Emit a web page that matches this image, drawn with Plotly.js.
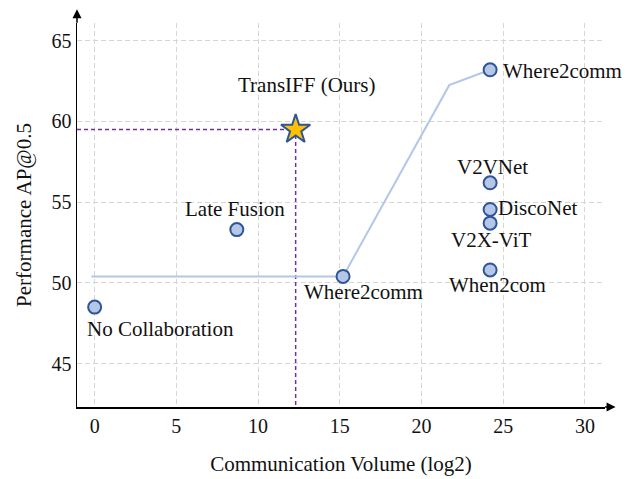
<!DOCTYPE html>
<html>
<head>
<meta charset="utf-8">
<script src="https://cdn.plot.ly/plotly-3.0.1.min.js"></script>
<style>html,body{margin:0;padding:0;background:#fff}#chart{width:626px;height:479px}</style>
</head>
<body>
<div id="chart"></div>
<script>
// ---- data ----
const methods = ['No Collaboration', 'Late Fusion', 'Where2comm', 'Where2comm', 'V2VNet', 'DiscoNet', 'V2X-ViT', 'When2com'];
const commVolume = [0, 8.7, 15.2, 24.2, 24.2, 24.2, 24.2, 24.2];
const perfAP = [48.5, 53.3, 50.4, 63.2, 56.2, 54.55, 53.7, 50.8];

const where2commCurveX = [-0.2, 15.2, 21.7, 24.2];
const where2commCurveY = [50.4, 50.4, 62.25, 63.2];

const oursName = 'TransIFF (Ours)';
const oursVolume = [12.3];
const oursAP = [59.5];

const xTicks = [0, 5, 10, 15, 20, 25, 30];
const yTicks = [45, 50, 55, 60, 65];
const xRange = [-1.08, 31.23];
const yRange = [42.31, 66.1];

// ---- style / placement ----
const FONT = '"Liberation Serif", "Times New Roman", Times, serif';
const LABEL_SIZE = 21;
const labelPlacement = [
  {xanchor: 'center', xshift: 66, yshift: -22},   // No Collaboration
  {xanchor: 'center', xshift: -2, yshift: 21},    // Late Fusion
  {xanchor: 'center', xshift: 20, yshift: -16},   // Where2comm (low)
  {xanchor: 'left', xshift: 11, yshift: -1},      // Where2comm (high)
  {xanchor: 'center', xshift: 2, yshift: 16},     // V2VNet
  {xanchor: 'left', xshift: 6, yshift: 1},        // DiscoNet
  {xanchor: 'center', xshift: 1, yshift: -17},    // V2X-ViT
  {xanchor: 'center', xshift: 7, yshift: -15}     // When2com
];
const oursPlacement = {xanchor: 'center', xshift: 11, yshift: 45};

const traces = [
  {
    x: [xRange[0], oursVolume[0], oursVolume[0]],
    y: [oursAP[0], oursAP[0], yRange[0]],
    mode: 'lines', type: 'scatter', hoverinfo: 'skip', showlegend: false,
    line: {color: '#7030a0', width: 1.5, dash: '4px,3px'}
  },
  {
    x: where2commCurveX, y: where2commCurveY,
    mode: 'lines', type: 'scatter', showlegend: false,
    line: {color: '#b4c7e7', width: 2}
  },
  {
    x: commVolume, y: perfAP, text: methods,
    mode: 'markers', type: 'scatter', showlegend: false,
    marker: {symbol: 'circle', size: 13, color: '#b4c7e7', line: {color: '#2f5597', width: 2}}
  },
  {
    x: oursVolume, y: oursAP, text: [oursName],
    mode: 'markers', type: 'scatter', showlegend: false,
    marker: {symbol: 'star', size: 22, color: '#ffc000', line: {color: '#2f5597', width: 2}}
  }
];

const annotations = methods.map((m, i) => ({
  x: commVolume[i], y: perfAP[i], xref: 'x', yref: 'y',
  text: m, showarrow: false,
  xanchor: labelPlacement[i].xanchor, yanchor: 'middle',
  xshift: labelPlacement[i].xshift, yshift: labelPlacement[i].yshift,
  font: {family: FONT, size: LABEL_SIZE, color: '#111'}
}));
annotations.push({
  x: oursVolume[0], y: oursAP[0], xref: 'x', yref: 'y',
  text: oursName, showarrow: false,
  xanchor: oursPlacement.xanchor, yanchor: 'middle',
  xshift: oursPlacement.xshift, yshift: oursPlacement.yshift,
  font: {family: FONT, size: LABEL_SIZE, color: '#111'}
});
// axis arrow heads
annotations.push({
  xref: 'paper', yref: 'paper', x: 0, y: 1.036, ax: 0, ay: 15,
  text: '', showarrow: true, arrowhead: 2, arrowsize: 1.2, arrowwidth: 1.5, arrowcolor: '#000'
});
annotations.push({
  xref: 'paper', yref: 'paper', x: 1.02, y: 0, ax: -12, ay: 0,
  text: '', showarrow: true, arrowhead: 2, arrowsize: 1.2, arrowwidth: 1.5, arrowcolor: '#000'
});

const axisCommon = {
  showgrid: true, gridcolor: '#d6d6d6', gridwidth: 1, griddash: '5px,3px',
  zeroline: false, showline: true, linecolor: '#000', linewidth: 1.5,
  ticks: '', tickfont: {family: FONT, size: 20, color: '#111'}
};

const layout = {
  width: 626, height: 479,
  margin: {l: 77, r: 21, t: 23, b: 72, pad: 0},
  paper_bgcolor: '#fff', plot_bgcolor: '#fff',
  font: {family: FONT, size: 20, color: '#111'},
  xaxis: Object.assign({}, axisCommon, {
    range: xRange, tickvals: xTicks, ticktext: xTicks.map(String),
    title: {text: 'Communication Volume (log2)', font: {family: FONT, size: LABEL_SIZE, color: '#111'}, standoff: 21}
  }),
  yaxis: Object.assign({}, axisCommon, {
    range: yRange, tickvals: yTicks, ticktext: yTicks.map(String),
    title: {text: 'Performance AP@0.5', font: {family: FONT, size: LABEL_SIZE, color: '#111'}, standoff: 14}
  }),
  annotations: annotations,
  hovermode: 'closest'
};

Plotly.newPlot('chart', traces, layout, {displayModeBar: false, staticPlot: true});
</script>
</body>
</html>
